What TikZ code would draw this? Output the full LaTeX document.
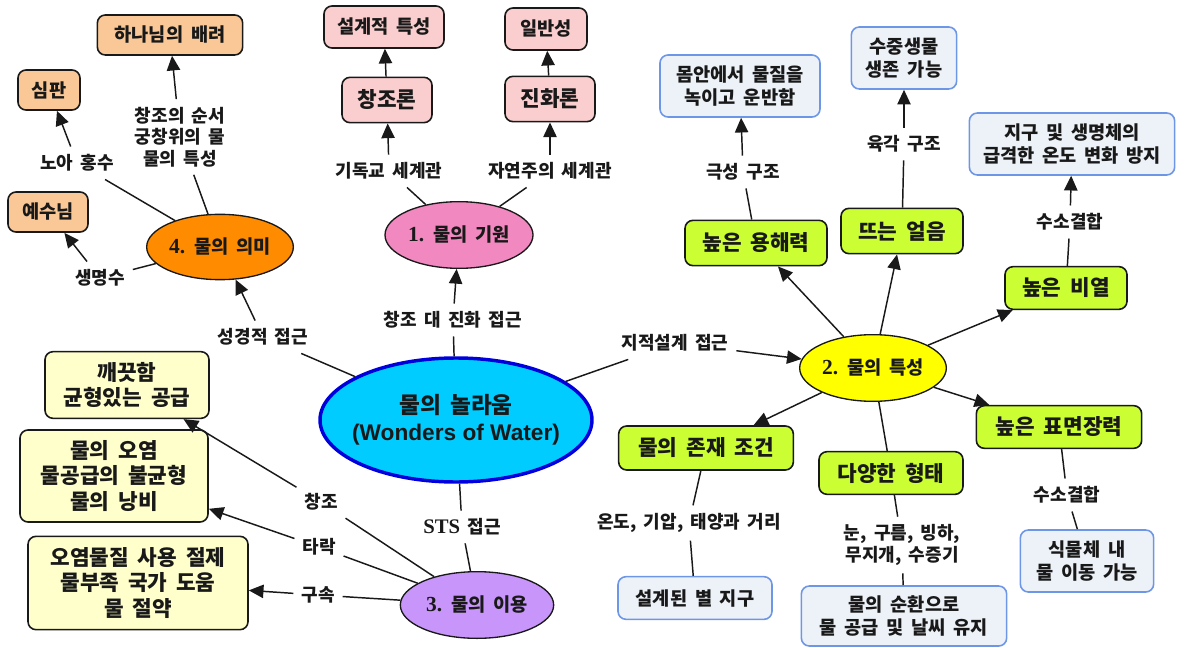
\documentclass[tikz,border=0pt]{standalone}
\usepackage{fontspec}
\setmainfont{Noto Sans CJK KR}[WordSpace=1.8]
\newfontfamily\latsf{Liberation Sans}
\newfontfamily\latrm{Liberation Serif}[Scale=1.15]
\usepackage{tikz}
\usetikzlibrary{shapes.geometric, arrows.meta}
\definecolor{ink}{RGB}{25,25,25}
\definecolor{wowFill}{RGB}{0,204,255}
\definecolor{wowLine}{RGB}{0,0,220}
\definecolor{cPink}{RGB}{242,136,192}
\definecolor{cPinkBox}{RGB}{250,206,206}
\definecolor{cOrange}{RGB}{255,140,0}
\definecolor{cOrangeBox}{RGB}{250,200,150}
\definecolor{cYellow}{RGB}{255,255,0}
\definecolor{cLime}{RGB}{204,255,51}
\definecolor{cLilac}{RGB}{200,150,250}
\definecolor{cCream}{RGB}{255,255,204}
\definecolor{cIce}{RGB}{237,242,248}
\definecolor{cIceLine}{RGB}{110,150,230}
\newcommand{\kfont}[2]{\fontsize{#1}{#2}\selectfont\bfseries}

\begin{document}
\begin{tikzpicture}[x=0.75pt, y=-0.75pt, every node/.style={text=ink},
   hub/.style={ellipse, draw=ink, line width=1pt, align=center, inner sep=-6pt, font=\kfont{14}{17}},
   box/.style={draw=ink, rounded corners=6pt, line width=1.2pt, align=center, inner sep=2pt, font=\kfont{14}{17}},
   pbox/.style={box, fill=cPinkBox},
   obox/.style={box, fill=cOrangeBox},
   ybox/.style={box, fill=cCream, font=\kfont{16}{19}},
   gbox/.style={box, fill=cLime, font=\kfont{16}{19}},
   ibox/.style={box, draw=cIceLine, fill=cIce},
   lbl/.style={align=center, inner sep=1pt, outer sep=5pt, font=\kfont{13.5}{16}},
   ln/.style={line width=1.1pt, draw=ink},
   arr/.style={ln, -{Triangle[length=11pt,width=10pt]}}]
  \useasboundingbox (0,0) rectangle (1187,648);
  % centre and the four topics
  \node[hub, fill=wowFill, draw=wowLine, line width=2.6pt, inner sep=-14pt, minimum width=204pt, minimum height=93pt, font=\kfont{17}{20}] (wow) at (456,420) {물의 놀라움\\{\latsf(Wonders of Water)}};
  \node[hub, fill=cPink, minimum width=111pt, minimum height=50pt] (origin) at (459,235) {{\latrm 1.} 물의 기원};
  \node[hub, fill=cYellow, minimum width=110pt, minimum height=50pt] (prop) at (873,368) {{\latrm 2.} 물의 특성};
  \node[hub, fill=cLilac, minimum width=115pt, minimum height=50pt] (use) at (477,605) {{\latrm 3.} 물의 이용};
  \node[hub, fill=cOrange, minimum width=110pt, minimum height=49pt] (mean) at (220,247) {{\latrm 4.} 물의 의미};
  % 1. origin
  \node[pbox, minimum width=90pt, minimum height=31.5pt] (design) at (384,27) {설계적 특성};
  \node[pbox, minimum width=67.5pt, minimum height=34pt, font=\kfont{16}{19}] (creat) at (387,100) {창조론};
  \node[pbox, minimum width=61.5pt, minimum height=31.5pt] (general) at (546,29) {일반성};
  \node[pbox, minimum width=67.5pt, minimum height=34pt, font=\kfont{16}{19}] (evol) at (550,99) {진화론};
  % 4. meaning
  \node[obox, minimum width=109pt, minimum height=30pt] (care) at (170,35) {하나님의 배려};
  \node[obox, minimum width=46.5pt, minimum height=30pt] (judge) at (49,90) {심판};
  \node[obox, minimum width=60pt, minimum height=30pt] (jesus) at (48,212) {예수님};
  % 3. use
  \node[ybox, minimum width=123pt, minimum height=50pt] (clean) at (127,385) {깨끗함\\균형있는 공급};
  \node[ybox, minimum width=141pt, minimum height=69pt] (pollu) at (114,476) {물의 오염\\물공급의 불균형\\물의 낭비};
  \node[ybox, minimum width=165pt, minimum height=70pt] (save) at (138,583) {오염물질 사용 절제\\물부족 국가 도움\\물 절약};
  % 2. properties
  \node[gbox, minimum width=106.5pt, minimum height=34pt] (solv) at (756,243) {높은 용해력};
  \node[gbox, minimum width=91.5pt, minimum height=34pt] (ice) at (902,231) {뜨는 얼음};
  \node[gbox, minimum width=91.5pt, minimum height=32pt] (heat) at (1066,288) {높은 비열};
  \node[gbox, minimum width=124pt, minimum height=32pt] (tens) at (1059,427) {높은 표면장력};
  \node[gbox, minimum width=108pt, minimum height=32pt] (form) at (891,473) {다양한 형태};
  \node[gbox, minimum width=131pt, minimum height=33pt] (cond) at (706,448) {물의 존재 조건};
  \node[ibox, minimum width=120pt, minimum height=46.5pt] (carry) at (740,86) {몸안에서 물질을\\녹이고 운반함};
  \node[ibox, minimum width=79pt, minimum height=46.5pt] (aqua) at (904,58) {수중생물\\생존 가능};
  \node[ibox, minimum width=154pt, minimum height=46.5pt] (temp) at (1072,144) {지구 및 생명체의\\급격한 온도 변화 방지};
  \node[ibox, minimum width=100pt, minimum height=46.5pt] (plant) at (1087,561) {식물체 내\\물 이동 가능};
  \node[ibox, minimum width=154pt, minimum height=45pt] (cycle) at (904,616) {물의 순환으로\\물 공급 및 날씨 유지};
  \node[ibox, minimum width=115.5pt, minimum height=32pt] (earth) at (695,598) {설계된 별 지구};
  % link labels
  \node[lbl] (cve) at (453,320) {창조 대 진화 접근};
  \node[lbl] (bib) at (263,337) {성경적 접근};
  \node[lbl] (idl) at (675,343) {지적설계 접근};
  \node[lbl] (sts) at (462,527) {{\latrm STS} 접근};
  \node[lbl] (chr) at (389,171) {기독교 세계관};
  \node[lbl] (nat) at (550,171) {자연주의 세계관};
  \node[lbl] (lord) at (180,137) {창조의 순서\\궁창위의 물\\물의 특성};
  \node[lbl] (noah) at (77,163) {노아 홍수};
  \node[lbl] (life) at (100,278) {생명수};
  \node[lbl] (lcr) at (321,502) {창조};
  \node[lbl] (lfa) at (319,547) {타락};
  \node[lbl] (lre) at (318,595) {구속};
  \node[lbl] (pol) at (743,172) {극성 구조};
  \node[lbl] (hex) at (904,144) {육각 구조};
  \node[lbl] (hb1) at (1070,222) {수소결합};
  \node[lbl] (hb2) at (1067,495) {수소결합};
  \node[lbl] (tpd) at (689,523) {온도, 기압, 태양과 거리};
  \node[lbl] (snow) at (902,545) {눈, 구름, 빙하,\\무지개, 수증기};
  % connectors
  \foreach \i/\j in {wow/cve, wow/bib, wow/idl, wow/sts, sts/use, origin/chr, origin/nat, mean/lord, mean/noah, mean/life, use/lcr, use/lfa, use/lre, solv/pol, ice/hex, heat/hb1, tens/hb2, hb2/plant, prop/form, form/snow, snow/cycle, cond/tpd, tpd/earth} \draw[ln] (\i) -- (\j);
  \foreach \i/\j in {cve/origin, bib/mean, idl/prop, chr/creat, creat/design, nat/evol, evol/general, lord/care, noah/judge, life/jesus, lcr/clean, lfa/pollu, lre/save, pol/carry, hex/aqua, hb1/temp, prop/solv, prop/ice, prop/heat, prop/tens, prop/cond} \draw[arr] (\i) -- (\j);
\end{tikzpicture}
\end{document}
